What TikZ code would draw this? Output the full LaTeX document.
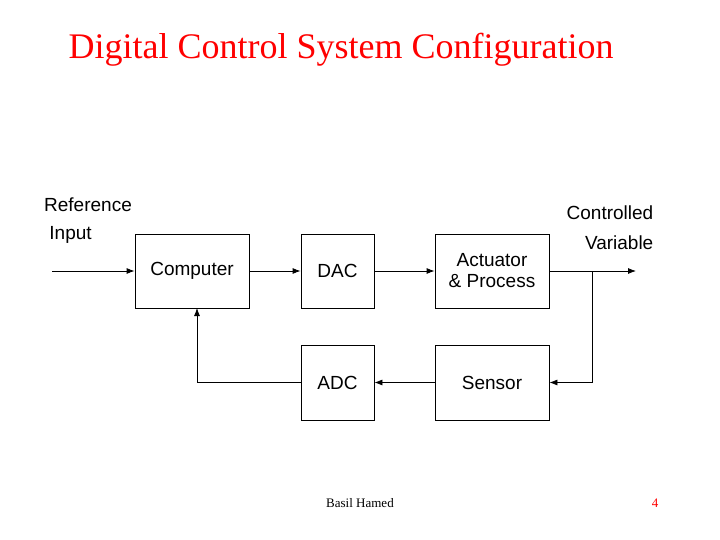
\documentclass[tikz,border=0pt]{standalone}
\usepackage{fontspec}
\setmainfont{Liberation Serif}
\newfontfamily\boxfont{Liberation Sans}
\usetikzlibrary{arrows.meta}
\tikzset{blk/.style={draw, thick, inner sep=0pt, font=\boxfont\fontsize{19}{21}\selectfont, align=center},
         sig/.style={-{Latex[length=8pt,width=6pt]}, thick}}
\begin{document}
\begin{tikzpicture}[x=1pt,y=-1pt]
                \useasboundingbox (0,0) rectangle (720,540);
                \node[text=red, font=\fontsize{36}{40}\selectfont] (title) at (341,50) {Digital Control System Configuration};
                \node[blk, minimum width=114pt, minimum height=74pt] (comp) at (192,271) {Computer};
                \node[blk, minimum width=73pt, minimum height=74pt] (dac) at (337.5,271) {DAC};
                \node[blk, minimum width=114pt, minimum height=74pt] (act) at (492,271) {Actuator\\\& Process};
                \node[blk, minimum width=73pt, minimum height=75pt] (adc) at (337.5,382.5) {ADC};
                \node[blk, minimum width=114pt, minimum height=75pt] (sens) at (492,382.5) {Sensor};
                \node[font=\boxfont\fontsize{19}{28}\selectfont, align=left] (ref) at (88,221) {Reference\\\ Input};
                \node[font=\boxfont\fontsize{19}{30}\selectfont, align=right] (cv) at (610,228) {Controlled\\Variable};
                \coordinate (in) at (52,271);
                \coordinate (out) at (636,271);
                \coordinate (tap) at (592,271);
                \coordinate (fb) at (197,308);
                \draw[sig] (in) -- (comp);
                \draw[sig] (comp) -- (dac);
                \draw[sig] (dac) -- (act);
                \draw[sig] (act) -- (out);
                \draw[sig] (tap) |- (sens);
                \draw[sig] (sens) -- (adc);
                \draw[sig] (adc.west) -| (fb);
                \node[font=\fontsize{13}{15}\selectfont] (auth) at (360,503) {Basil Hamed};
                \node[text=red, font=\fontsize{13}{15}\selectfont] (pg) at (655,503) {4};
\end{tikzpicture}
\end{document}
